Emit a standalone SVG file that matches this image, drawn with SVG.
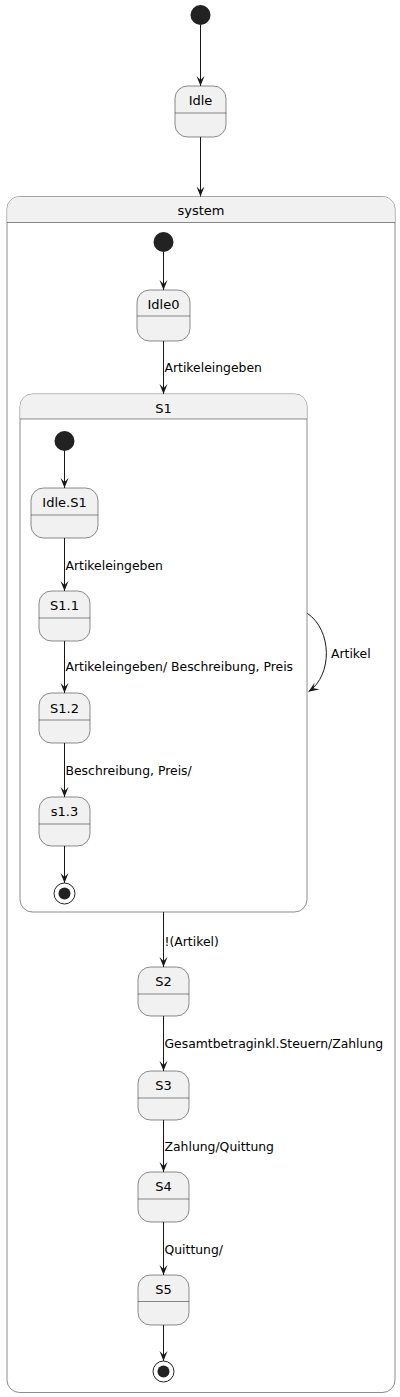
<svg xmlns="http://www.w3.org/2000/svg" width="400" height="1397" viewBox="0 0 400 1397">
<defs>
<style>
.st{fill:#F1F1F1;stroke:#181818;stroke-width:0.5}
.sep{stroke:#181818;stroke-width:0.5;fill:none}
.cont{fill:#FFFFFF;stroke:#181818;stroke-width:0.5}
.hdr{fill:#F1F1F1;stroke:none}
.nm{font-family:"DejaVu Sans",sans-serif;font-size:13px;fill:#000;text-anchor:middle}
.lb{font-family:"DejaVu Sans",sans-serif;font-size:12.4px;fill:#000}
.edge{stroke:#181818;stroke-width:1;fill:none;marker-end:url(#ah)}
.start{fill:#222222}
.endo{fill:none;stroke:#222222;stroke-width:1}
</style>
<marker id="ah" markerWidth="10" markerHeight="10" refX="10" refY="5" orient="auto" markerUnits="userSpaceOnUse">
<path d="M10,5 L0,1 L4,5 L0,9 Z" fill="#181818"/>
</marker>
</defs>
<rect width="400" height="1397" fill="#FFFFFF"/>

<g id="system">
<rect class="cont" x="7" y="196.5" width="388" height="1196" rx="12.5"/>
<path class="hdr" d="M7.3,222.5 L7.3,209 A12.2,12.2 0 0 1 19.5,196.8 L382.5,196.8 A12.2,12.2 0 0 1 394.7,209 L394.7,222.5 Z"/>
<line class="sep" x1="7" y1="222.5" x2="395" y2="222.5"/>
<text class="nm" x="201" y="215">system</text>
</g>

<g id="S1">
<rect class="cont" x="20" y="394" width="287" height="518" rx="12.5"/>
<path class="hdr" d="M20.3,419 L20.3,406.5 A12.2,12.2 0 0 1 32.5,394.3 L294.5,394.3 A12.2,12.2 0 0 1 306.7,406.5 L306.7,419 Z"/>
<line class="sep" x1="20" y1="419" x2="307" y2="419"/>
<text class="nm" x="163.5" y="412.5">S1</text>
</g>

<g id="start_top"><circle class="start" cx="200.5" cy="15" r="10"/></g>
<g id="Idle">
<rect class="st" x="175" y="86" width="51" height="51" rx="12.5"/>
<line class="sep" x1="175" y1="113" x2="226" y2="113"/>
<text class="nm" x="200.5" y="105">Idle</text>
</g>

<g id="start_system"><circle class="start" cx="163.5" cy="242" r="10"/></g>
<g id="Idle0">
<rect class="st" x="137" y="290" width="53" height="51" rx="12.5"/>
<line class="sep" x1="137" y1="316" x2="190" y2="316"/>
<text class="nm" x="163.5" y="309">Idle0</text>
</g>

<g id="start_S1"><circle class="start" cx="64.5" cy="441" r="10"/></g>
<g id="IdleS1">
<rect class="st" x="31" y="488" width="67" height="50" rx="12.5"/>
<line class="sep" x1="31" y1="515" x2="98" y2="515"/>
<text class="nm" x="64.5" y="507">Idle.S1</text>
</g>
<g id="S1_1">
<rect class="st" x="39" y="591" width="51" height="50" rx="12.5"/>
<line class="sep" x1="39" y1="618" x2="90" y2="618"/>
<text class="nm" x="64.5" y="610">S1.1</text>
</g>
<g id="S1_2">
<rect class="st" x="39" y="693" width="51" height="50" rx="12.5"/>
<line class="sep" x1="39" y1="720" x2="90" y2="720"/>
<text class="nm" x="64.5" y="712.5">S1.2</text>
</g>
<g id="s1_3">
<rect class="st" x="39" y="797" width="51" height="49" rx="12.5"/>
<line class="sep" x1="39" y1="824" x2="90" y2="824"/>
<text class="nm" x="64.5" y="816">s1.3</text>
</g>
<g id="end_S1">
<circle class="endo" cx="64.5" cy="893.5" r="10.5"/>
<circle class="start" cx="64.5" cy="893.5" r="6"/>
</g>

<g id="S2">
<rect class="st" x="138" y="967" width="51" height="49" rx="12.5"/>
<line class="sep" x1="138" y1="994" x2="189" y2="994"/>
<text class="nm" x="163.5" y="986">S2</text>
</g>
<g id="S3">
<rect class="st" x="138" y="1071" width="51" height="49" rx="12.5"/>
<line class="sep" x1="138" y1="1098" x2="189" y2="1098"/>
<text class="nm" x="163.5" y="1090">S3</text>
</g>
<g id="S4">
<rect class="st" x="138" y="1172" width="51" height="50" rx="12.5"/>
<line class="sep" x1="138" y1="1199" x2="189" y2="1199"/>
<text class="nm" x="163.5" y="1191">S4</text>
</g>
<g id="S5">
<rect class="st" x="138" y="1275" width="51" height="50" rx="12.5"/>
<line class="sep" x1="138" y1="1301.5" x2="189" y2="1301.5"/>
<text class="nm" x="163.5" y="1294">S5</text>
</g>
<g id="end_system">
<circle class="endo" cx="163.5" cy="1371.5" r="10.5"/>
<circle class="start" cx="163.5" cy="1371.5" r="6"/>
</g>

<g id="connectors">
<line class="edge" x1="200.5" y1="25" x2="200.5" y2="86"/>
<line class="edge" x1="200.5" y1="137" x2="200.5" y2="196.5"/>
<line class="edge" x1="163.5" y1="252" x2="163.5" y2="290"/>
<line class="edge" x1="163.5" y1="341" x2="163.5" y2="394"/>
<text class="lb" x="164.5" y="372">Artikeleingeben</text>
<line class="edge" x1="64.5" y1="451" x2="64.5" y2="488"/>
<line class="edge" x1="64.5" y1="538" x2="64.5" y2="591"/>
<text class="lb" x="65.5" y="570">Artikeleingeben</text>
<line class="edge" x1="64.5" y1="641" x2="64.5" y2="693"/>
<text class="lb" x="65.5" y="671">Artikeleingeben/ Beschreibung, Preis</text>
<line class="edge" x1="64.5" y1="743" x2="64.5" y2="797"/>
<text class="lb" x="65.5" y="775">Beschreibung, Preis/</text>
<line class="edge" x1="64.5" y1="846" x2="64.5" y2="883"/>
<path class="edge" d="M307.3,613.3 C332,630 333,675 308.5,691.7"/>
<text class="lb" x="331" y="658">Artikel</text>
<line class="edge" x1="163.5" y1="912" x2="163.5" y2="967"/>
<text class="lb" x="164.5" y="946">!(Artikel)</text>
<line class="edge" x1="163.5" y1="1016" x2="163.5" y2="1071"/>
<text class="lb" x="164.5" y="1048">Gesamtbetraginkl.Steuern/Zahlung</text>
<line class="edge" x1="163.5" y1="1120" x2="163.5" y2="1172"/>
<text class="lb" x="164.5" y="1151">Zahlung/Quittung</text>
<line class="edge" x1="163.5" y1="1222" x2="163.5" y2="1275"/>
<text class="lb" x="164.5" y="1254">Quittung/</text>
<line class="edge" x1="163.5" y1="1325" x2="163.5" y2="1361"/>
</g>
</svg>
